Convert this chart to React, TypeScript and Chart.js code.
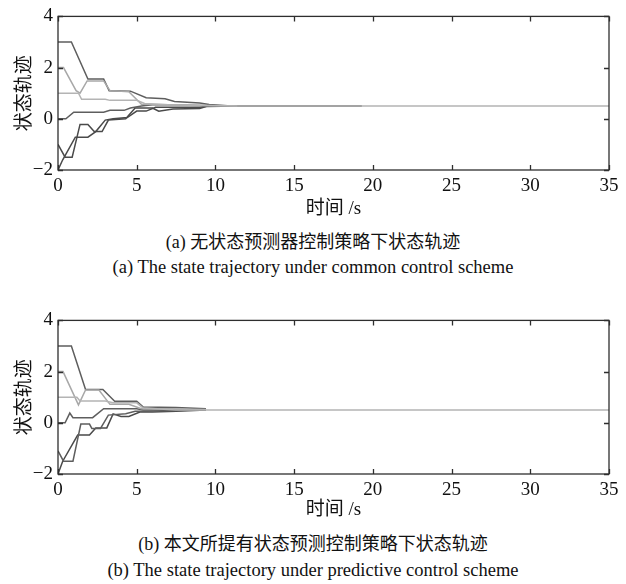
import React, { useEffect, useRef } from "react";
import { Chart, registerables } from "chart.js";
Chart.register(...registerables);

// ---- axes / text ----
const X_MIN = 0, X_MAX = 35, X_STEP = 5;
const Y_MIN = -2, Y_MAX = 4, Y_STEP = 2;
const Y_TITLE = "状态轨迹";
const X_TITLE = "时间 /s";
const CAP_A_ZH = "(a) 无状态预测器控制策略下状态轨迹";
const CAP_A_EN = "(a) The state trajectory under common control scheme";
const CAP_B_ZH = "(b) 本文所提有状态预测控制策略下状态轨迹";
const CAP_B_EN = "(b) The state trajectory under predictive control scheme";

// ---- panel (a): common control scheme ----
const A3_T = [0, 0.85, 1.9, 2.9, 3.25, 4.6, 5.6, 6.8, 7.4, 9.0, 9.6, 11.0, 11.4];
const A3_Y = [3, 3, 1.55, 1.55, 1.1, 1.08, 0.82, 0.78, 0.68, 0.62, 0.56, 0.5, 0.5];
const A2_T = [0, 0.35, 1.15, 1.4, 1.85, 2.9, 3.3, 4.5, 5.3, 7.0, 9.5, 11.4];
const A2_Y = [2, 2, 1.1, 1.0, 1.48, 1.48, 1.1, 1.06, 0.57, 0.55, 0.52, 0.5];
const A1_T = [0, 1.3, 1.5, 3.0, 3.3, 5.0, 5.5, 7.0, 9.0, 11.4, 35];
const A1_Y = [1, 1, 0.76, 0.76, 0.72, 0.72, 0.6, 0.55, 0.52, 0.5, 0.5];
const A0_T = [0, 0.5, 1.0, 2.9, 3.3, 4.2, 4.6, 5.3, 6.0, 7.0, 9.0, 11.4];
const A0_Y = [0, 0, 0.26, 0.26, 0.33, 0.33, 0.42, 0.5, 0.55, 0.55, 0.52, 0.5];
const AM1_T = [0, 0.45, 0.9, 1.4, 1.9, 2.3, 2.8, 3.2, 4.3, 4.9, 6.0, 6.4, 7.3, 9.0, 9.4, 11.4];
const AM1_Y = [-1, -1.5, -1.5, -0.22, -0.22, -0.5, -0.5, -0.05, 0.0, 0.42, 0.42, 0.3, 0.38, 0.4, 0.48, 0.5];
const AM2_T = [0, 0.3, 1.1, 1.9, 2.4, 3.0, 3.5, 4.4, 5.0, 5.6, 6.2, 7.2, 9.0, 9.6, 11.0, 19.3];
const AM2_Y = [-2, -1.6, -0.72, -0.72, -0.5, -0.05, 0.0, 0.05, 0.3, 0.3, 0.45, 0.45, 0.45, 0.5, 0.5, 0.5];

// ---- panel (b): predictive control scheme ----
const B3_T = [0, 0.85, 1.75, 2.85, 3.6, 5.0, 5.4, 7.5, 9.4];
const B3_Y = [3, 3, 1.3, 1.3, 0.84, 0.84, 0.62, 0.6, 0.55];
const B2_T = [0, 0.32, 1.3, 1.75, 2.6, 3.3, 4.5, 5.3, 7.0, 9.4];
const B2_Y = [2, 2, 0.7, 1.28, 1.28, 0.72, 0.72, 0.55, 0.55, 0.52];
const B1_T = [0, 1.2, 1.4, 3.0, 3.5, 5.0, 5.4, 7.5, 35];
const B1_Y = [1, 1, 0.85, 0.85, 0.78, 0.78, 0.58, 0.5, 0.5];
const B0_T = [0, 0.45, 0.75, 0.95, 2.2, 2.9, 5.0, 5.4, 9.4];
const B0_Y = [0, 0, 0.38, 0.2, 0.2, 0.55, 0.55, 0.5, 0.5];
const BM1_T = [0, 0.35, 0.95, 1.45, 2.0, 2.15, 2.7, 3.2, 4.3, 4.9, 5.6, 7.2, 9.4];
const BM1_Y = [-1.1, -1.5, -1.5, -0.05, -0.05, -0.22, -0.22, 0.3, 0.35, 0.45, 0.45, 0.48, 0.5];
const BM2_T = [0, 0.3, 1.25, 2.0, 2.4, 3.1, 3.5, 4.0, 4.5, 5.2, 6.0, 7.5, 9.4];
const BM2_Y = [-2, -1.5, -0.48, -0.48, -0.2, -0.2, 0.35, 0.25, 0.25, 0.42, 0.42, 0.45, 0.5];

const DARK = "#4a4a4a";
const DARK2 = "#5e5e5e";
const LIGHT = "#a8a8a8";
const LIGHT2 = "#b4b4b4";

const SERIF = "'Liberation Serif', 'Times New Roman', serif";
const CJK = "'Liberation Serif', 'Noto Sans CJK SC', serif";

type Series = { t: number[]; y: number[]; color: string };

const PANEL_A: Series[] = [
  { t: A1_T, y: A1_Y, color: LIGHT2 },
  { t: A2_T, y: A2_Y, color: LIGHT },
  { t: A3_T, y: A3_Y, color: DARK2 },
  { t: A0_T, y: A0_Y, color: DARK2 },
  { t: AM1_T, y: AM1_Y, color: DARK },
  { t: AM2_T, y: AM2_Y, color: DARK },
];
const PANEL_B: Series[] = [
  { t: B1_T, y: B1_Y, color: LIGHT2 },
  { t: B2_T, y: B2_Y, color: LIGHT },
  { t: B3_T, y: B3_Y, color: DARK2 },
  { t: B0_T, y: B0_Y, color: DARK2 },
  { t: BM1_T, y: BM1_Y, color: DARK2 },
  { t: BM2_T, y: BM2_Y, color: DARK },
];

const framePlugin = {
  id: "frame",
  afterDatasetsDraw(chart: any) {
    const { ctx, chartArea } = chart;
    const { left, right, top, bottom } = chartArea;
    const xs = chart.scales.x;
    const ys = chart.scales.y;
    const L = 5;
    ctx.save();
    ctx.strokeStyle = "#2e2e2e";
    ctx.lineWidth = 1.3;
    ctx.strokeRect(left, top, right - left, bottom - top);
    ctx.beginPath();
    xs.ticks.forEach((tk: any) => {
      const px = Math.round(xs.getPixelForValue(tk.value)) + 0.5;
      ctx.moveTo(px, bottom);
      ctx.lineTo(px, bottom - L);
      ctx.moveTo(px, top);
      ctx.lineTo(px, top + L);
    });
    ys.ticks.forEach((tk: any) => {
      const py = Math.round(ys.getPixelForValue(tk.value)) + 0.5;
      ctx.moveTo(left, py);
      ctx.lineTo(left + L, py);
      ctx.moveTo(right, py);
      ctx.lineTo(right - L, py);
    });
    ctx.stroke();
    ctx.restore();
  },
};

function Panel({ series, top, titlePad }: { series: Series[]; top: number; titlePad: number }) {
  const ref = useRef<HTMLCanvasElement | null>(null);
  useEffect(() => {
    if (!ref.current) return;
    const chart = new Chart(ref.current, {
      type: "line",
      data: {
        datasets: series.map((s) => ({
          data: s.t.map((t, i) => ({ x: t, y: s.y[i] })),
          borderColor: s.color,
          borderWidth: 1.5,
          pointRadius: 0,
          tension: 0,
          fill: false,
        })),
      },
      options: {
        animation: false,
        responsive: false,
        events: [],
        layout: { padding: { top: 12, right: 17, left: 0, bottom: 0 } },
        plugins: { legend: { display: false }, tooltip: { enabled: false } },
        scales: {
          x: {
            type: "linear",
            min: X_MIN,
            max: X_MAX,
            grid: { display: false, drawTicks: false },
            border: { display: false },
            ticks: {
              stepSize: X_STEP,
              padding: 5,
              color: "#111",
              font: { family: SERIF, size: 19 },
              maxRotation: 0,
            },
            title: {
              display: true,
              text: X_TITLE,
              color: "#111",
              font: { family: CJK, size: 19 },
              padding: { top: 0, bottom: titlePad },
            },
            afterFit: (sc: any) => {
              sc.height = 50;
            },
          },
          y: {
            type: "linear",
            min: Y_MIN,
            max: Y_MAX,
            grid: { display: false, drawTicks: false },
            border: { display: false },
            ticks: {
              stepSize: Y_STEP,
              padding: 5,
              color: "#111",
              font: { family: SERIF, size: 19 },
              callback: (v: any) => (Number(v) < 0 ? "\u2212" + Math.abs(Number(v)) : String(v)),
            },
            title: {
              display: true,
              text: Y_TITLE,
              color: "#111",
              font: { family: CJK, size: 19 },
              padding: { top: 14, bottom: 0 },
            },
            afterFit: (sc: any) => {
              sc.width = 58;
            },
          },
        },
      },
      plugins: [framePlugin],
    });
    return () => chart.destroy();
  }, [series, titlePad]);
  return (
    <canvas
      ref={ref}
      width={626}
      height={220}
      style={{ position: "absolute", left: 0, top, width: 626, height: 220, display: "block" }}
    />
  );
}

function Caption({ text, top, size }: { text: string; top: number; size: number }) {
  return (
    <div
      style={{
        position: "absolute",
        left: 0,
        width: 626,
        top,
        textAlign: "center",
        fontFamily: CJK,
        fontSize: size,
        lineHeight: "22px",
        color: "#111",
        whiteSpace: "nowrap",
      }}
    >
      {text}
    </div>
  );
}

export default function App() {
  return (
    <div style={{ position: "absolute", left: 0, top: 0, width: 626, height: 584, background: "#fff", overflow: "hidden" }}>
      <Panel series={PANEL_A} top={0} titlePad={0} />
      <Caption text={CAP_A_ZH} top={231} size={18} />
      <Caption text={CAP_A_EN} top={256} size={18.5} />
      <Panel series={PANEL_B} top={304} titlePad={3} />
      <Caption text={CAP_B_ZH} top={533} size={18} />
      <Caption text={CAP_B_EN} top={559} size={18.5} />
    </div>
  );
}
